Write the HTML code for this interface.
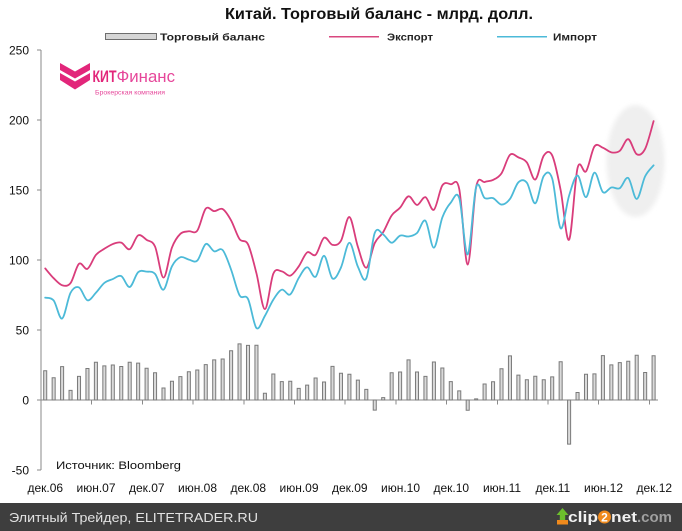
<!DOCTYPE html>
<html><head><meta charset="utf-8"><style>
html,body{margin:0;padding:0;background:#fff;}
svg{display:block;}
text{font-family:"Liberation Sans",Arial,sans-serif;}
</style></head><body>
<svg width="682" height="531" viewBox="0 0 682 531" xmlns="http://www.w3.org/2000/svg">
<defs>
<filter id="blr" x="-30%" y="-30%" width="160%" height="160%"><feGaussianBlur stdDeviation="2.5"/></filter>
</defs>
<rect x="0" y="0" width="682" height="531" fill="#fff"/>
<!-- highlight ellipse -->
<ellipse cx="635.5" cy="161" rx="29" ry="56" fill="#efefef" filter="url(#blr)"/>

<!-- title -->
<text x="225" y="19" font-size="16" font-weight="bold" fill="#111" textLength="308" lengthAdjust="spacingAndGlyphs">Китай.  Торговый баланс - млрд. долл.</text>

<!-- legend -->
<rect x="105.5" y="33.5" width="51" height="6" fill="#d6d6d6" stroke="#6e6e6e" stroke-width="1"/>
<text x="160" y="40.5" font-size="10.5" font-weight="bold" fill="#222" textLength="105" lengthAdjust="spacingAndGlyphs">Торговый баланс</text>
<line x1="329" y1="36.7" x2="379" y2="36.7" stroke="#d9477f" stroke-width="1.5"/>
<text x="387" y="40.5" font-size="10.5" font-weight="bold" fill="#222" textLength="46" lengthAdjust="spacingAndGlyphs">Экспорт</text>
<line x1="497" y1="36.7" x2="547" y2="36.7" stroke="#4cbad8" stroke-width="1.5"/>
<text x="553" y="40.5" font-size="10.5" font-weight="bold" fill="#222" textLength="44" lengthAdjust="spacingAndGlyphs">Импорт</text>

<!-- logo -->
<g fill="#e2267a">
<polygon points="60,63 75,71.5 90,63 90,70 75,78.5 60,70"/>
<polygon points="60,73 75,81.5 90,73 90,80 75,89.5 60,80"/>
</g>
<text x="92.5" y="82" font-size="16.5" fill="#e2267a"><tspan font-weight="bold" textLength="24" lengthAdjust="spacingAndGlyphs">КИТ</tspan><tspan fill="#e6479a" textLength="58.5" lengthAdjust="spacingAndGlyphs">Финанс</tspan></text>
<text x="95" y="94.5" font-size="6" fill="#e6479a" textLength="70" lengthAdjust="spacingAndGlyphs">Брокерская компания</text>

<!-- axes -->
<g stroke="#8a8a8a" stroke-width="1" fill="none" shape-rendering="crispEdges">
<line x1="41" y1="50" x2="41" y2="470"/>
<line x1="37" y1="50" x2="41" y2="50"/>
<line x1="37" y1="120" x2="41" y2="120"/>
<line x1="37" y1="190" x2="41" y2="190"/>
<line x1="37" y1="260" x2="41" y2="260"/>
<line x1="37" y1="330" x2="41" y2="330"/>
<line x1="37" y1="400" x2="41" y2="400"/>
<line x1="37" y1="470" x2="41" y2="470"/>
<line x1="41" y1="400" x2="658" y2="400"/>
<line x1="91.7" y1="400" x2="91.7" y2="404.5"/>
<line x1="142.4" y1="400" x2="142.4" y2="404.5"/>
<line x1="193.1" y1="400" x2="193.1" y2="404.5"/>
<line x1="243.8" y1="400" x2="243.8" y2="404.5"/>
<line x1="294.5" y1="400" x2="294.5" y2="404.5"/>
<line x1="345.2" y1="400" x2="345.2" y2="404.5"/>
<line x1="395.9" y1="400" x2="395.9" y2="404.5"/>
<line x1="446.6" y1="400" x2="446.6" y2="404.5"/>
<line x1="497.3" y1="400" x2="497.3" y2="404.5"/>
<line x1="548" y1="400" x2="548" y2="404.5"/>
<line x1="598.7" y1="400" x2="598.7" y2="404.5"/>
<line x1="649.4" y1="400" x2="649.4" y2="404.5"/>
</g>

<!-- y labels -->
<g font-size="12" fill="#111" text-anchor="end">
<text x="29" y="54.5">250</text>
<text x="29" y="124.5">200</text>
<text x="29" y="194.5">150</text>
<text x="29" y="264.5">100</text>
<text x="29" y="334.5">50</text>
<text x="29" y="404.5">0</text>
<text x="29" y="474.5">-50</text>
</g>

<!-- bars -->
<g transform="matrix(8.45 0 0 -1.4 45.2 400)" fill="#dadada" stroke="#7a7a7a">
<g vector-effect="non-scaling-stroke">
<rect x="-0.18" y="0" width="0.36" height="20.9" vector-effect="non-scaling-stroke"/>
<rect x="0.82" y="0" width="0.36" height="15.9" vector-effect="non-scaling-stroke"/>
<rect x="1.82" y="0" width="0.36" height="23.8" vector-effect="non-scaling-stroke"/>
<rect x="2.82" y="0" width="0.36" height="6.9" vector-effect="non-scaling-stroke"/>
<rect x="3.82" y="0" width="0.36" height="16.9" vector-effect="non-scaling-stroke"/>
<rect x="4.82" y="0" width="0.36" height="22.5" vector-effect="non-scaling-stroke"/>
<rect x="5.82" y="0" width="0.36" height="27.0" vector-effect="non-scaling-stroke"/>
<rect x="6.82" y="0" width="0.36" height="24.4" vector-effect="non-scaling-stroke"/>
<rect x="7.82" y="0" width="0.36" height="25.0" vector-effect="non-scaling-stroke"/>
<rect x="8.82" y="0" width="0.36" height="23.9" vector-effect="non-scaling-stroke"/>
<rect x="9.82" y="0" width="0.36" height="27.0" vector-effect="non-scaling-stroke"/>
<rect x="10.82" y="0" width="0.36" height="26.3" vector-effect="non-scaling-stroke"/>
<rect x="11.82" y="0" width="0.36" height="22.7" vector-effect="non-scaling-stroke"/>
<rect x="12.82" y="0" width="0.36" height="19.5" vector-effect="non-scaling-stroke"/>
<rect x="13.82" y="0" width="0.36" height="8.6" vector-effect="non-scaling-stroke"/>
<rect x="14.82" y="0" width="0.36" height="13.4" vector-effect="non-scaling-stroke"/>
<rect x="15.82" y="0" width="0.36" height="16.7" vector-effect="non-scaling-stroke"/>
<rect x="16.82" y="0" width="0.36" height="20.2" vector-effect="non-scaling-stroke"/>
<rect x="17.82" y="0" width="0.36" height="21.4" vector-effect="non-scaling-stroke"/>
<rect x="18.82" y="0" width="0.36" height="25.3" vector-effect="non-scaling-stroke"/>
<rect x="19.82" y="0" width="0.36" height="28.7" vector-effect="non-scaling-stroke"/>
<rect x="20.82" y="0" width="0.36" height="29.3" vector-effect="non-scaling-stroke"/>
<rect x="21.82" y="0" width="0.36" height="35.2" vector-effect="non-scaling-stroke"/>
<rect x="22.82" y="0" width="0.36" height="40.1" vector-effect="non-scaling-stroke"/>
<rect x="23.82" y="0" width="0.36" height="39.0" vector-effect="non-scaling-stroke"/>
<rect x="24.82" y="0" width="0.36" height="39.1" vector-effect="non-scaling-stroke"/>
<rect x="25.82" y="0" width="0.36" height="4.8" vector-effect="non-scaling-stroke"/>
<rect x="26.82" y="0" width="0.36" height="18.6" vector-effect="non-scaling-stroke"/>
<rect x="27.82" y="0" width="0.36" height="13.1" vector-effect="non-scaling-stroke"/>
<rect x="28.82" y="0" width="0.36" height="13.4" vector-effect="non-scaling-stroke"/>
<rect x="29.82" y="0" width="0.36" height="8.3" vector-effect="non-scaling-stroke"/>
<rect x="30.82" y="0" width="0.36" height="10.6" vector-effect="non-scaling-stroke"/>
<rect x="31.82" y="0" width="0.36" height="15.7" vector-effect="non-scaling-stroke"/>
<rect x="32.82" y="0" width="0.36" height="12.9" vector-effect="non-scaling-stroke"/>
<rect x="33.82" y="0" width="0.36" height="24.0" vector-effect="non-scaling-stroke"/>
<rect x="34.82" y="0" width="0.36" height="19.1" vector-effect="non-scaling-stroke"/>
<rect x="35.82" y="0" width="0.36" height="18.4" vector-effect="non-scaling-stroke"/>
<rect x="36.82" y="0" width="0.36" height="14.2" vector-effect="non-scaling-stroke"/>
<rect x="37.82" y="0" width="0.36" height="7.6" vector-effect="non-scaling-stroke"/>
<rect x="38.82" y="-7.2" width="0.36" height="7.2" vector-effect="non-scaling-stroke"/>
<rect x="39.82" y="0" width="0.36" height="1.7" vector-effect="non-scaling-stroke"/>
<rect x="40.82" y="0" width="0.36" height="19.5" vector-effect="non-scaling-stroke"/>
<rect x="41.82" y="0" width="0.36" height="20.0" vector-effect="non-scaling-stroke"/>
<rect x="42.82" y="0" width="0.36" height="28.7" vector-effect="non-scaling-stroke"/>
<rect x="43.82" y="0" width="0.36" height="20.0" vector-effect="non-scaling-stroke"/>
<rect x="44.82" y="0" width="0.36" height="16.9" vector-effect="non-scaling-stroke"/>
<rect x="45.82" y="0" width="0.36" height="27.1" vector-effect="non-scaling-stroke"/>
<rect x="46.82" y="0" width="0.36" height="22.9" vector-effect="non-scaling-stroke"/>
<rect x="47.82" y="0" width="0.36" height="13.1" vector-effect="non-scaling-stroke"/>
<rect x="48.82" y="0" width="0.36" height="6.5" vector-effect="non-scaling-stroke"/>
<rect x="49.82" y="-7.3" width="0.36" height="7.3" vector-effect="non-scaling-stroke"/>
<rect x="50.82" y="0" width="0.36" height="0.8" vector-effect="non-scaling-stroke"/>
<rect x="51.82" y="0" width="0.36" height="11.4" vector-effect="non-scaling-stroke"/>
<rect x="52.82" y="0" width="0.36" height="13.0" vector-effect="non-scaling-stroke"/>
<rect x="53.82" y="0" width="0.36" height="22.3" vector-effect="non-scaling-stroke"/>
<rect x="54.82" y="0" width="0.36" height="31.5" vector-effect="non-scaling-stroke"/>
<rect x="55.82" y="0" width="0.36" height="17.8" vector-effect="non-scaling-stroke"/>
<rect x="56.82" y="0" width="0.36" height="14.5" vector-effect="non-scaling-stroke"/>
<rect x="57.82" y="0" width="0.36" height="17.0" vector-effect="non-scaling-stroke"/>
<rect x="58.82" y="0" width="0.36" height="14.5" vector-effect="non-scaling-stroke"/>
<rect x="59.82" y="0" width="0.36" height="16.5" vector-effect="non-scaling-stroke"/>
<rect x="60.82" y="0" width="0.36" height="27.3" vector-effect="non-scaling-stroke"/>
<rect x="61.82" y="-31.5" width="0.36" height="31.5" vector-effect="non-scaling-stroke"/>
<rect x="62.82" y="0" width="0.36" height="5.4" vector-effect="non-scaling-stroke"/>
<rect x="63.82" y="0" width="0.36" height="18.4" vector-effect="non-scaling-stroke"/>
<rect x="64.82" y="0" width="0.36" height="18.7" vector-effect="non-scaling-stroke"/>
<rect x="65.82" y="0" width="0.36" height="31.7" vector-effect="non-scaling-stroke"/>
<rect x="66.82" y="0" width="0.36" height="25.1" vector-effect="non-scaling-stroke"/>
<rect x="67.82" y="0" width="0.36" height="26.7" vector-effect="non-scaling-stroke"/>
<rect x="68.82" y="0" width="0.36" height="27.7" vector-effect="non-scaling-stroke"/>
<rect x="69.82" y="0" width="0.36" height="32.0" vector-effect="non-scaling-stroke"/>
<rect x="70.82" y="0" width="0.36" height="19.6" vector-effect="non-scaling-stroke"/>
<rect x="71.82" y="0" width="0.36" height="31.6" vector-effect="non-scaling-stroke"/>
</g>
</g>

<!-- lines -->
<g transform="matrix(8.45 0 0 -1.4 45.2 400)" fill="none" stroke-linejoin="round" stroke-linecap="round">
<polyline class="sm" vector-effect="non-scaling-stroke" stroke="#d93d7b" stroke-width="1.8" points="0,94.0 1,87.0 2,82.0 3,83.5 4,97.3 5,93.7 6,103.6 7,108.0 8,111.4 9,112.4 10,107.7 11,117.6 12,114.4 13,109.6 14,87.4 15,108.9 16,118.7 17,120.5 18,121.0 19,136.7 20,134.9 21,136.4 22,128.3 23,114.9 24,111.2 25,90.5 26,64.9 27,90.3 28,91.9 29,88.8 30,95.4 31,105.4 32,103.7 33,115.9 34,110.8 35,113.7 36,130.7 37,109.5 38,94.5 39,112.1 40,119.9 41,131.8 42,137.4 43,145.5 44,139.3 45,144.9 46,135.9 47,153.3 48,154.1 49,150.7 50,96.7 51,152.2 52,155.7 53,157.2 54,161.9 55,175.1 56,173.3 57,169.7 58,157.5 59,174.5 60,174.7 61,149.9 62,114.5 63,165.7 64,163.3 65,181.1 66,180.2 67,176.9 68,178.0 69,186.3 70,175.6 71,179.4 72,199.2"/>
<polyline class="sm" vector-effect="non-scaling-stroke" stroke="#4cbad8" stroke-width="1.8" points="0,73.1 1,71.1 2,58.2 3,76.6 4,80.4 5,71.2 6,76.6 7,83.6 8,86.4 9,88.5 10,80.7 11,91.3 12,91.7 13,90.1 14,78.8 15,95.5 16,102.0 17,100.3 18,99.6 19,111.4 20,106.2 21,107.1 22,93.1 23,74.8 24,72.2 25,51.4 26,60.1 27,71.7 28,78.8 29,75.4 30,87.1 31,94.8 32,88.0 33,103.0 34,86.8 35,94.6 36,112.3 37,95.3 38,86.9 39,119.3 40,118.2 41,112.3 42,117.4 43,116.8 44,119.3 45,128.0 46,108.8 47,130.4 48,141.0 49,144.2 50,104.0 51,152.1 52,144.3 53,144.2 54,139.6 55,143.6 56,155.5 57,155.2 58,140.5 59,160.0 60,158.2 61,122.6 62,146.0 63,160.3 64,144.9 65,162.4 66,148.5 67,151.8 68,151.3 69,158.6 70,143.6 71,159.8 72,167.6"/>
</g>

<!-- source -->
<text x="56" y="469" font-size="11" fill="#111" textLength="125" lengthAdjust="spacingAndGlyphs">Источник: Bloomberg</text>

<!-- x labels -->
<g font-size="12" fill="#111" text-anchor="middle">
<text x="45.3" y="492">дек.06</text>
<text x="96" y="492">июн.07</text>
<text x="146.8" y="492">дек.07</text>
<text x="197.5" y="492">июн.08</text>
<text x="248.3" y="492">дек.08</text>
<text x="299" y="492">июн.09</text>
<text x="349.8" y="492">дек.09</text>
<text x="400.5" y="492">июн.10</text>
<text x="451.3" y="492">дек.10</text>
<text x="502" y="492">июн.11</text>
<text x="552.8" y="492">дек.11</text>
<text x="603.5" y="492">июн.12</text>
<text x="654.3" y="492">дек.12</text>
</g>

<!-- footer -->
<rect x="0" y="503" width="682" height="28" fill="#3e3e3e"/>
<text x="9" y="522" font-size="13" fill="#e2e2e2" textLength="249" lengthAdjust="spacingAndGlyphs">Элитный Трейдер, ELITETRADER.RU</text>
<polygon points="562.5,508 568.5,515 565.2,515 565.2,520 559.8,520 559.8,515 556.5,515" fill="#6cbf2c"/>
<rect x="557" y="520" width="11" height="4.5" fill="#f08a1c"/>
<text x="568" y="522" font-size="15" font-weight="bold" fill="#f2f2f2" textLength="30" lengthAdjust="spacingAndGlyphs">clip</text>
<circle cx="604.5" cy="517" r="6.5" fill="#f08a1c"/>
<text x="604.5" y="521.5" font-size="12" font-weight="bold" fill="#fff" text-anchor="middle">2</text>
<text x="611" y="522" font-size="15" font-weight="bold" fill="#f2f2f2" textLength="26" lengthAdjust="spacingAndGlyphs">net</text>
<text x="637" y="522" font-size="15" font-weight="bold" fill="#a0a0a0" textLength="35" lengthAdjust="spacingAndGlyphs">.com</text>
</svg>
<script>
(function(){
try{
var NS='http://www.w3.org/2000/svg';
var pls=document.querySelectorAll('polyline.sm');
for(var k=0;k<pls.length;k++){
 var pl=pls[k];
 var pts=pl.getAttribute('points').trim().split(/\s+/).map(function(p){return p.split(',').map(Number);});
 var d='M'+pts[0][0]+','+pts[0][1];
 for(var i=0;i<pts.length-1;i++){
  var p0=pts[i-1]||pts[i],p1=pts[i],p2=pts[i+1],p3=pts[i+2]||pts[i+1];
  var c1x=p1[0]+(p2[0]-p0[0])/6,c1y=p1[1]+(p2[1]-p0[1])/6;
  var c2x=p2[0]-(p3[0]-p1[0])/6,c2y=p2[1]-(p3[1]-p1[1])/6;
  d+='C'+c1x.toFixed(3)+','+c1y.toFixed(3)+' '+c2x.toFixed(3)+','+c2y.toFixed(3)+' '+p2[0]+','+p2[1];
 }
 var path=document.createElementNS(NS,'path');
 for(var a=0;a<pl.attributes.length;a++){var at=pl.attributes[a];if(at.name!=='points'&&at.name!=='class')path.setAttribute(at.name,at.value);}
 path.setAttribute('d',d);
 pl.parentNode.replaceChild(path,pl);
}
}catch(e){}
})();
</script>
</body></html>
